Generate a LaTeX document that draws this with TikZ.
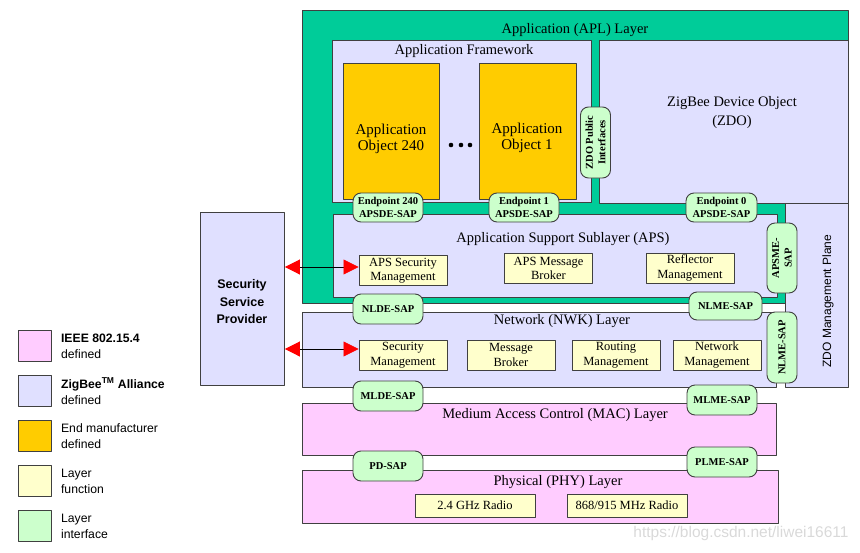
\documentclass[tikz,border=0pt]{standalone}
\usepackage{fontspec}
\setmainfont{Liberation Serif}
\setsansfont{Liberation Sans}
\usetikzlibrary{arrows.meta}
\definecolor{aplgreen}{RGB}{0,204,153}
\definecolor{zblav}{RGB}{224,224,255}
\definecolor{mforange}{RGB}{255,204,0}
\definecolor{fnyellow}{RGB}{255,255,204}
\definecolor{ifgreen}{RGB}{204,255,204}
\definecolor{iepink}{RGB}{255,204,255}
\definecolor{edge}{RGB}{64,64,64}
\tikzset{
  layerbox/.style={draw=edge,line width=0.9pt,inner sep=0pt,anchor=north west},
  title/.style={font=\fontsize{14.5}{19}\selectfont,align=center,inner sep=0pt},
  objtext/.style={font=\fontsize{15}{16.5}\selectfont,align=center,inner sep=0pt},
  func/.style={draw=edge,line width=0.9pt,fill=fnyellow,inner sep=0pt,align=center,
    font=\fontsize{12.5}{14.5}\selectfont,minimum width=88pt,minimum height=30pt},
  sap/.style={draw=edge,line width=0.9pt,fill=ifgreen,rounded corners=8pt,inner sep=0pt,
    align=center,font=\bfseries\fontsize{10.5}{12.5}\selectfont,minimum width=70pt,minimum height=29pt},
  vsap/.style={sap,rotate=90,minimum width=71pt,minimum height=30pt},
  keytext/.style={font=\sffamily\fontsize{12.2}{16}\selectfont,align=left,inner sep=0pt},
  secarrow/.style={{Triangle[length=15pt,width=15pt,color=red,fill=red]}-{Triangle[length=15pt,width=15pt,color=red,fill=red]},line width=0.7pt,black}
}
\begin{document}
\begin{tikzpicture}[x=1pt,y=-1pt,line join=round]
\useasboundingbox (0,0) rectangle (860,552);
% application layer
\node[layerbox,fill=aplgreen,minimum width=546pt,minimum height=293pt] (apl) at (302,10) {};
\node[title] (apltitle) at (575,30) {Application (APL) Layer};
\node[layerbox,fill=zblav,minimum width=259pt,minimum height=162pt] (afw) at (332,40) {};
\node[title] (afwtitle) at (464,51) {Application Framework};
\node[layerbox,fill=zblav,minimum width=249pt,minimum height=163pt] (zdo) at (599,40) {};
\node[title] (zdotitle) at (732,113) {ZigBee Device Object\\(ZDO)};
\node[layerbox,fill=mforange,minimum width=96pt,minimum height=136pt] (obj240) at (343,63) {};
\node[objtext] (obj240txt) at (391,139) {Application\\Object 240};
\node[layerbox,fill=mforange,minimum width=97pt,minimum height=136pt] (obj1) at (479,63) {};
\node[objtext] (obj1txt) at (527,138) {Application\\Object 1};
\foreach \x in {451,461,470} \fill (\x,145) circle (2.3);
\node[layerbox,fill=zblav,minimum width=444pt,minimum height=83pt] (aps) at (333,214) {};
\node[title] (apstitle) at (563,239) {Application Support Sublayer (APS)};
\node[func] (apssec) at (403,270.5) {APS Security\\Management};
\node[func] (apsmsg) at (548.5,268.5) {APS Message\\Broker};
\node[func] (reflect) at (690,268) {Reflector\\Management};
% management plane
\node[layerbox,fill=zblav,minimum width=63pt,minimum height=184pt] (zmp) at (785,203) {};
\node[rotate=90,font=\sffamily\fontsize{12}{14}\selectfont,inner sep=0pt] (zmptxt) at (828,301) {ZDO Management Plane};
% network layer
\node[layerbox,fill=zblav,minimum width=474pt,minimum height=75pt] (nwk) at (302,312) {};
\node[title] (nwktitle) at (562,321) {Network (NWK) Layer};
\node[func] (nwksec) at (403,355) {Security\\Management};
\node[func] (nwkmsg) at (511,355) {Message\\Broker};
\node[func] (route) at (616,355) {Routing\\Management};
\node[func] (netmgmt) at (717,355) {Network\\Management};
% mac and phy
\node[layerbox,fill=iepink,minimum width=474pt,minimum height=52pt] (mac) at (302,403) {};
\node[title] (mactitle) at (555,415) {Medium Access Control (MAC) Layer};
\node[layerbox,fill=iepink,minimum width=476pt,minimum height=53pt] (phy) at (302,470) {};
\node[title] (phytitle) at (558,482) {Physical (PHY) Layer};
\node[func,minimum width=120pt,minimum height=23pt] (radio24) at (475,505.5) {2.4 GHz Radio};
\node[func,minimum width=120pt,minimum height=23pt] (radio868) at (627,505.5) {868/915 MHz Radio};
% service access points
\node[vsap] (zdopub) at (595.5,142.5) {ZDO Public\\Interfaces};
\node[sap] (ep240) at (388,207.5) {Endpoint 240\\APSDE-SAP};
\node[sap] (ep1) at (524,207.5) {Endpoint 1\\APSDE-SAP};
\node[sap,minimum width=71pt] (ep0) at (721.5,207.5) {Endpoint 0\\APSDE-SAP};
\node[vsap,minimum width=70pt] (apsme) at (782,258) {APSME-\\SAP};
\node[sap,minimum width=73pt,minimum height=28pt] (nlmeh) at (725.5,306) {NLME-SAP};
\node[sap,minimum height=30pt] (nlde) at (388,309) {NLDE-SAP};
\node[vsap] (nlmev) at (782,347.5) {NLME-SAP};
\node[sap,minimum height=30pt] (mlde) at (388,396) {MLDE-SAP};
\node[sap,minimum height=30pt] (mlme) at (722,400) {MLME-SAP};
\node[sap,minimum height=30pt] (pdsap) at (388,466) {PD-SAP};
\node[sap,minimum height=30pt] (plme) at (722,462) {PLME-SAP};
% security service provider
\node[layerbox,fill=zblav,minimum width=84pt,minimum height=173pt] (ssp) at (200,212) {};
\node[font=\sffamily\bfseries\fontsize{12.5}{17.5}\selectfont,align=center,inner sep=0pt] (ssptxt) at (242,302) {Security\\Service\\Provider};
\draw[secarrow] ([yshift=3.5pt]apssec.west -| ssp.east) -- ([yshift=3.5pt]apssec.west);
\draw[secarrow] ([yshift=6pt]nwksec.west -| ssp.east) -- ([yshift=6pt]nwksec.west);
% key
\foreach \y/\c/\t in {330/iepink/{\textbf{IEEE 802.15.4}\\defined},
    375/zblav/{\textbf{ZigBee\textsuperscript{TM} Alliance}\\defined},
    420/mforange/{End manufacturer\\defined},
    465/fnyellow/{Layer\\function},
    510/ifgreen/{Layer\\interface}}{
  \node[layerbox,fill=\c,minimum width=33pt,minimum height=31pt] (key\y) at (18,\y) {};
  \node[keytext,anchor=west] (keytxt\y) at ([xshift=9pt]key\y.east) {\t};
}
\node[font=\sffamily\fontsize{15.5}{18}\selectfont,text=black!15,inner sep=0pt] (wmark) at (741,533) {https://blog.csdn.net/liwei16611};
\end{tikzpicture}
\end{document}
